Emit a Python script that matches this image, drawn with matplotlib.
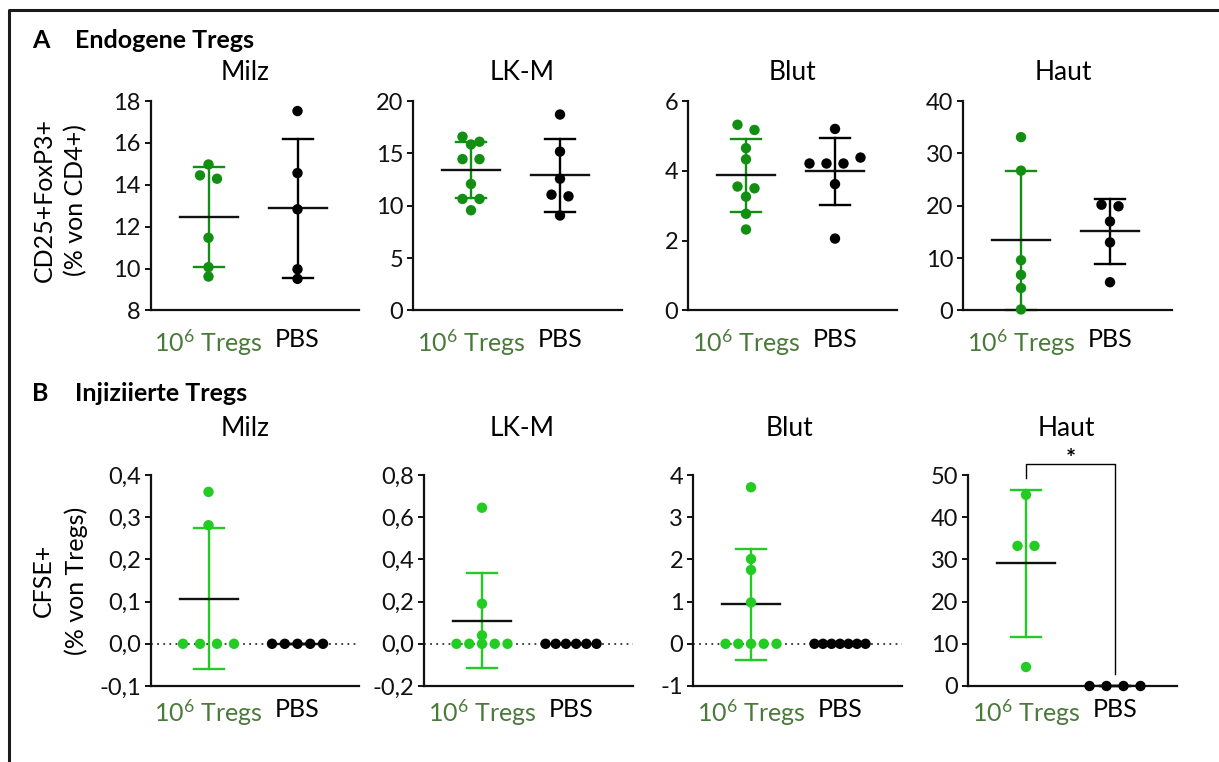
import numpy as np
import matplotlib.pyplot as plt
from matplotlib.lines import Line2D

plt.rcParams['font.family'] = ['Lato', 'DejaVu Sans']
plt.rcParams['mathtext.fontset'] = 'custom'
plt.rcParams['mathtext.rm'] = 'Lato'
plt.rcParams['mathtext.it'] = 'Lato:italic'

# ---- data ----
organs = ["Milz", "LK-M", "Blut", "Haut"]
groups = ["10$^{6}$ Tregs", "PBS"]

# A: Endogene Tregs, CD25+FoxP3+ (% von CD4+)
endo_milz_tregs = [14.97, 14.45, 14.29, 11.47, 10.07, 9.62]
endo_milz_pbs = [17.52, 14.56, 12.83, 9.97, 9.51]
endo_lkm_tregs = [16.59, 16.11, 15.85, 14.45, 14.45, 12.08, 10.65, 10.65, 9.57]
endo_lkm_pbs = [18.71, 15.17, 12.58, 11.06, 10.9, 9.07]
endo_blut_tregs = [5.32, 5.17, 4.65, 4.33, 3.55, 3.5, 3.26, 2.77, 2.32]
endo_blut_pbs = [5.2, 4.21, 4.21, 4.21, 4.38, 3.62, 2.06]
endo_haut_tregs = [33.1, 26.7, 9.6, 6.8, 4.3, 0.2]
endo_haut_pbs = [20.2, 19.9, 17.0, 13.0, 5.4]

# B: Injiziierte Tregs, CFSE+ (% von Tregs)
inj_milz_tregs = [0.36, 0.281, 0, 0, 0, 0]
inj_milz_pbs = [0, 0, 0, 0, 0]
inj_lkm_tregs = [0.645, 0.19, 0.04, 0, 0, 0, 0, 0]
inj_lkm_pbs = [0, 0, 0, 0, 0, 0]
inj_blut_tregs = [3.71, 2.01, 1.75, 0.98, 0, 0, 0, 0, 0]
inj_blut_pbs = [0, 0, 0, 0, 0, 0, 0]
inj_haut_tregs = [45.3, 33.2, 33.2, 4.5]
inj_haut_pbs = [0, 0, 0, 0]

endo_ticks = [[8, 10, 12, 14, 16, 18], [0, 5, 10, 15, 20], [0, 2, 4, 6], [0, 10, 20, 30, 40]]
endo_ticklabels = [["8", "10", "12", "14", "16", "18"], ["0", "5", "10", "15", "20"],
                   ["0", "2", "4", "6"], ["0", "10", "20", "30", "40"]]
inj_ticks = [[-0.1, 0, 0.1, 0.2, 0.3, 0.4], [-0.2, 0, 0.2, 0.4, 0.6, 0.8],
             [-1, 0, 1, 2, 3, 4], [0, 10, 20, 30, 40, 50]]
inj_ticklabels = [["-0,1", "0,0", "0,1", "0,2", "0,3", "0,4"],
                  ["-0,2", "0,0", "0,2", "0,4", "0,6", "0,8"],
                  ["-1", "0", "1", "2", "3", "4"], ["0", "10", "20", "30", "40", "50"]]

# ---- layout (pixels) ----
W, H = 1219, 762
GREEN_A = "#128f12"
GREEN_B = "#22cc22"
LABEL_GREEN = "#4a7a3a"
UNIT_X = 89.0          # px between the two columns
AX_W = 208.5

fig = plt.figure(figsize=(W / 100, H / 100), dpi=100)


def add_ax(left, top, bottom):
    return fig.add_axes([left / W, 1 - bottom / H, AX_W / W, (bottom - top) / H])


def swarm(vals, px_per_y, tol=7, step=17, max_w=51):
    """horizontal offsets in px, rows of near-equal values spread symmetrically"""
    vals = np.asarray(vals, dtype=float)
    order = np.argsort(-vals, kind="stable")
    offs = np.zeros(len(vals))
    rows, cur = [], [order[0]]
    for i in order[1:]:
        if abs(vals[cur[0]] - vals[i]) * px_per_y < tol:
            cur.append(i)
        else:
            rows.append(cur)
            cur = [i]
    rows.append(cur)
    for r in rows:
        r = sorted(r)
        n = len(r)
        sp = min(step, max_w / (n - 1)) if n > 1 else 0
        for k, i in enumerate(r):
            offs[i] = (k - (n - 1) / 2) * sp
    return offs


def panel(ax, tregs, pbs, ticks, ticklabels, green, h_px, dotted, xpad):
    lo, hi = ticks[0], ticks[-1]
    ax.set_xlim(-58 / UNIT_X, (AX_W - 58) / UNIT_X)
    ax.set_ylim(lo, hi)
    px_per_y = h_px / (hi - lo)
    if dotted:
        ax.axhline(0, color="#333333", lw=1.3, ls=(0, (1, 2.4)), zorder=1)
    for xc, vals, col in [(0, tregs, green), (1, pbs, "black")]:
        vals = np.asarray(vals, dtype=float)
        m = vals.mean()
        sd = vals.std(ddof=1)
        cap = 15 / UNIT_X
        half = 29 / UNIT_X
        ax.plot([xc, xc], [m - sd, m + sd], color=col, lw=1.7, zorder=2, clip_on=False)
        ax.plot([xc - cap, xc + cap], [m + sd, m + sd], color=col, lw=1.7, zorder=2, clip_on=False)
        ax.plot([xc - cap, xc + cap], [m - sd, m - sd], color=col, lw=1.7, zorder=2, clip_on=False)
        ax.plot([xc - half, xc + half], [m, m], color="#111111", lw=1.7, zorder=2)
        xs = xc + swarm(vals, px_per_y) / UNIT_X
        ax.scatter(xs, vals, s=56, color=col, edgecolors="none", zorder=3, clip_on=False)
    ax.set_yticks(ticks)
    ax.set_yticklabels(ticklabels)
    ax.set_xticks([0, 1])
    ax.set_xticklabels(groups)
    ax.get_xticklabels()[0].set_color(LABEL_GREEN)
    for s in ["top", "right"]:
        ax.spines[s].set_visible(False)
    for s in ["left", "bottom"]:
        ax.spines[s].set_linewidth(1.6)
        ax.spines[s].set_color("#111111")
    ax.tick_params(axis="y", length=4, width=1.4, pad=3, labelsize=17, colors="#111111")
    ax.tick_params(axis="x", length=0, pad=xpad, labelsize=18)


rowA = dict(top=101, bottom=310.5, lefts=[150.5, 413, 688, 963], title_y=80,
            title_x=[245, 522, 793, 1063], xpad=12.5)
rowB = dict(top=475, bottom=686, lefts=[150.5, 424, 693, 968], title_y=436,
            title_x=[245, 522, 790, 1066], xpad=8.5)

endo_data = [(endo_milz_tregs, endo_milz_pbs), (endo_lkm_tregs, endo_lkm_pbs),
             (endo_blut_tregs, endo_blut_pbs), (endo_haut_tregs, endo_haut_pbs)]
inj_data = [(inj_milz_tregs, inj_milz_pbs), (inj_lkm_tregs, inj_lkm_pbs),
            (inj_blut_tregs, inj_blut_pbs), (inj_haut_tregs, inj_haut_pbs)]

axes_b = []
for row, data, ticks, tlabels, green in [(rowA, endo_data, endo_ticks, endo_ticklabels, GREEN_A),
                                          (rowB, inj_data, inj_ticks, inj_ticklabels, GREEN_B)]:
    h_px = row["bottom"] - row["top"]
    for i, (tr, pb) in enumerate(data):
        ax = add_ax(row["lefts"][i], row["top"], row["bottom"])
        panel(ax, tr, pb, ticks[i], tlabels[i], green, h_px, ticks[i][0] < 0, row["xpad"])
        fig.text(row["title_x"][i] / W, 1 - row["title_y"] / H, organs[i],
                 ha="center", va="baseline", fontsize=19)
        if row is rowB:
            axes_b.append(ax)

# significance bracket (Haut, injected)
axh = axes_b[3]
axh.plot([0, 0, 1, 1], [49.3, 52.6, 52.6, 2.8], color="black", lw=1.0, clip_on=False, zorder=2)
axh.text(0.5, 52.0, "*", ha="center", va="baseline", fontsize=17, fontweight="bold")

# y axis titles
fig.text(60 / W, 1 - 200 / H, "CD25+FoxP3+\n(% von CD4+)", rotation=90,
         ha="center", va="center", multialignment="center", fontsize=18, linespacing=1.45)
fig.text(60 / W, 1 - 580.5 / H, "CFSE+\n(% von Tregs)", rotation=90,
         ha="center", va="center", multialignment="center", fontsize=18, linespacing=1.45)

# panel headers
fig.text(32 / W, 1 - 48 / H, "A", fontsize=18, fontweight="bold", va="baseline")
fig.text(75 / W, 1 - 48 / H, "Endogene Tregs", fontsize=18, fontweight="bold", va="baseline")
fig.text(32 / W, 1 - 401 / H, "B", fontsize=18, fontweight="bold", va="baseline")
fig.text(75 / W, 1 - 401 / H, "Injiziierte Tregs", fontsize=18, fontweight="bold", va="baseline")

# frame (top and left edge only)
fig.add_artist(Line2D([8.5 / W, 8.5 / W, 1], [0, 1 - 9.5 / H, 1 - 9.5 / H],
                      transform=fig.transFigure, color="#1a1a1a", lw=2.2))

fig.savefig("out.png", dpi=100)
